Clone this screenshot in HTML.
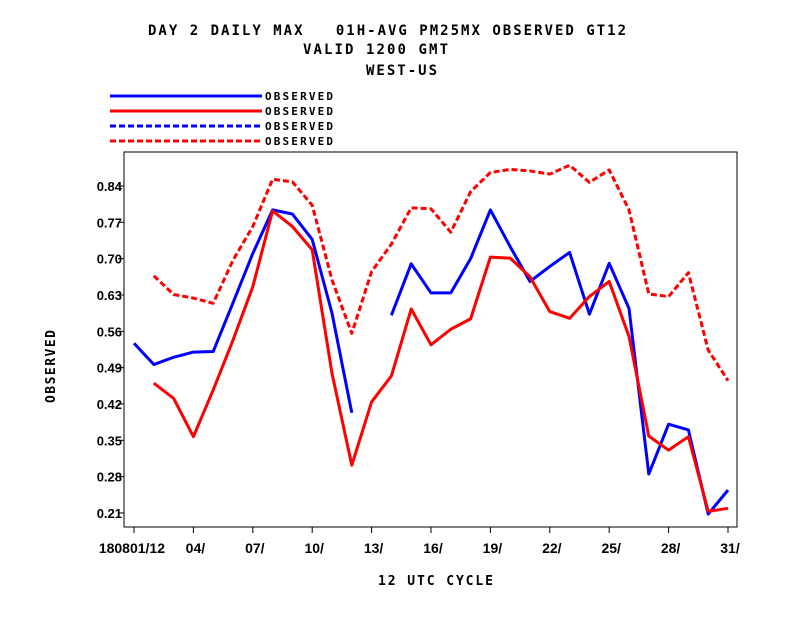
<!DOCTYPE html>
<html><head><meta charset="utf-8"><style>
body{margin:0;background:#fff;}
svg text{font-family:"DejaVu Sans Mono","Liberation Mono",monospace;font-weight:bold;fill:#000;white-space:pre;}
svg text.sans{font-family:"Liberation Sans",sans-serif;}
</style></head><body>
<svg width="792" height="612" viewBox="0 0 792 612">
<rect width="792" height="612" fill="#fff"/>
<g font-size="14">
<text x="148" y="35" textLength="478" lengthAdjust="spacing" xml:space="preserve">DAY 2 DAILY MAX   01H-AVG PM25MX OBSERVED GT12</text>
<text x="303" y="54" textLength="145" lengthAdjust="spacing">VALID 1200 GMT</text>
<text x="366" y="75" textLength="71" lengthAdjust="spacing">WEST-US</text>
</g>
<g id="legend" font-size="11"></g>
<rect x="124" y="152" width="613" height="375" fill="none" stroke="#000" stroke-width="1"/>
<g id="axes"></g>
<g id="series"></g>
<text x="378" y="585" font-size="13" textLength="115" lengthAdjust="spacing">12 UTC CYCLE</text>
<text transform="translate(55,403) rotate(-90)" font-size="13" textLength="73" lengthAdjust="spacing">OBSERVED</text>
</svg>
<script>
const days=[1,2,3,4,5,6,7,8,9,10,11,12,13,14,15,16,17,18,19,20,21,22,23,24,25,26,27,28,29,30,31];
const blueSolid=[0.537,0.496,0.510,0.520,0.521,0.615,0.710,0.794,0.786,0.737,0.595,0.403,null,0.591,0.690,0.634,0.634,0.700,0.794,0.723,0.656,0.685,0.712,0.593,0.691,0.604,0.285,0.381,0.370,0.208,0.254];
const redSolid=[null,0.460,0.431,0.357,0.447,0.543,0.646,0.792,0.762,0.717,0.479,0.302,0.424,0.474,0.603,0.534,0.564,0.584,0.703,0.701,0.665,0.598,0.585,0.627,0.656,0.550,0.358,0.331,0.357,0.213,0.219];
const blueDashed=[];
const redDashed=[null,0.667,0.631,0.624,0.614,0.697,0.762,0.853,0.848,0.803,0.659,0.556,0.675,0.728,0.798,0.796,0.751,0.829,0.866,0.872,0.869,0.863,0.880,0.847,0.871,0.794,0.632,0.627,0.673,0.524,0.465];
const yTicks=[0.21,0.28,0.35,0.42,0.49,0.56,0.63,0.70,0.77,0.84];
const yTickLabels=["0.21","0.28","0.35","0.42","0.49","0.56","0.63","0.70","0.77","0.84"];
const xTickDays=[1,4,7,10,13,16,19,22,25,28,31];
const xTickLabels=["180801/12","04/","07/","10/","13/","16/","19/","22/","25/","28/","31/"];
const legendLabels=["OBSERVED","OBSERVED","OBSERVED","OBSERVED"];

const NS="http://www.w3.org/2000/svg";
const X=d=>134+(d-1)*19.8;
const Y=v=>186+(0.84-v)*519;
function mk(tag,attrs,parent){const e=document.createElementNS(NS,tag);for(const k in attrs)e.setAttribute(k,attrs[k]);parent.appendChild(e);return e;}
const axes=document.getElementById('axes');
yTicks.forEach((v,i)=>{
  const t=mk('line',{x1:118,x2:124,y1:Y(v),y2:Y(v),stroke:'#000'},axes);
  
  
  const l=mk('text',{x:122,y:Y(v)+5,'font-size':13,'text-anchor':'end',class:'sans'},axes);
  
  
  l.textContent=yTickLabels[i];
});
xTickDays.forEach((d,i)=>{
  const t=mk('line',{x1:X(d),x2:X(d),y1:527,y2:533,stroke:'#000'},axes);
  
  
  const l=mk('text',{x:i===0?X(d)+31:X(d)+2,y:553,'font-size':14,'text-anchor':i===0?'end':'middle',class:'sans'},axes);
  
  
  l.textContent=xTickLabels[i];
});
const S=document.getElementById('series');
const specs=[[blueSolid,'#0000ff',null,'series-observed-blue-solid'],[redSolid,'#ff0000',null,'series-observed-red-solid'],[blueDashed,'#0000ff','6,3','series-observed-blue-dashed'],[redDashed,'#ff0000','6,3','series-observed-red-dashed']];
specs.forEach(([arr,col,dash,name])=>{
  let segs=[],cur=[];
  days.forEach((d,i)=>{const v=arr[i];if(v==null){if(cur.length)segs.push(cur);cur=[];}else cur.push(X(d)+','+Y(v));});
  if(cur.length)segs.push(cur);
  segs.forEach(s=>{
    const p=mk('polyline',{points:s.join(' '),fill:'none',stroke:col,'stroke-width':3,'stroke-linejoin':'round'},S);
    if(dash)p.setAttribute('stroke-dasharray',dash);
    
    
  });
});
const L=document.getElementById('legend');
specs.forEach(([a,col,dash],i)=>{
  const y=96+i*15;
  const ln=mk('line',{x1:110,x2:262,y1:y,y2:y,stroke:col,'stroke-width':3},L);
  if(dash)ln.setAttribute('stroke-dasharray',dash);
  
  
  const t=mk('text',{x:265,y:y+4,'font-size':11,textLength:68,lengthAdjust:'spacing'},L);
  
  
  t.textContent=legendLabels[i];
});
</script>
</body></html>
